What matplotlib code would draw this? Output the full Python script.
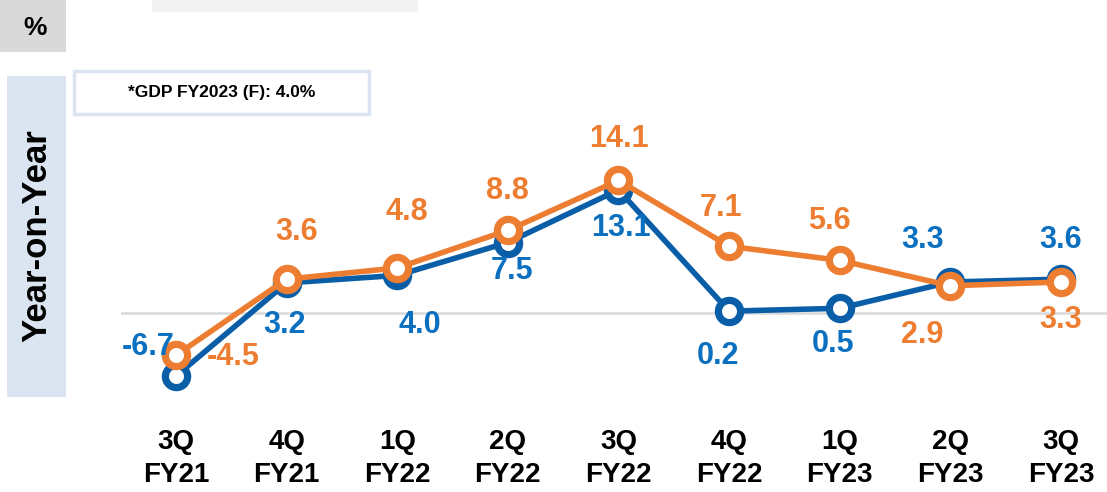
import matplotlib.pyplot as plt
from matplotlib.patches import Rectangle

quarters = ["3Q\nFY21", "4Q\nFY21", "1Q\nFY22", "2Q\nFY22", "3Q\nFY22",
            "4Q\nFY22", "1Q\nFY23", "2Q\nFY23", "3Q\nFY23"]
blue_values = [-6.7, 3.2, 4.0, 7.5, 13.1, 0.2, 0.5, 3.3, 3.6]
orange_values = [-4.5, 3.6, 4.8, 8.8, 14.1, 7.1, 5.6, 2.9, 3.3]

# label offsets in pixels relative to each point
blue_offsets = [(-28, 29), (-2, -42), (23, -50), (4, -28), (2, -38),
                (-11, -45), (-7, -36), (-28, 42), (0, 39)]
orange_offsets = [(57, -2), (10, 47), (10, 56), (0, 39), (0, 41),
                  (-8, 38), (-10, 39), (-28, -49), (0, -38)]

W, H = 1107, 492
BLUE = "#0a5ea8"
BLUE_TXT = "#0b70bf"
ORANGE = "#ed7d31"
FONT = "Liberation Sans"


def fig_rect(x, y, w, h):
    # pixel box (top-left origin) to figure fraction
    return (x / W, 1 - (y + h) / H, w / W, h / H)


fig = plt.figure(figsize=(W / 100, H / 100), dpi=100)
plt.rcParams["font.family"] = FONT

for (x, y, w, h), color in [((152, 0, 266, 12), "#f2f2f2"),
                            ((0, 0, 66, 52), "#d9d9d9"),
                            ((7, 76, 59, 321), "#dbe5f1")]:
    fx, fy, fw, fh = fig_rect(x, y, w, h)
    fig.patches.append(Rectangle((fx, fy), fw, fh, transform=fig.transFigure,
                                 facecolor=color, edgecolor="none"))

fx, fy, fw, fh = fig_rect(74, 71, 295, 43)
fig.patches.append(Rectangle((fx, fy), fw, fh, transform=fig.transFigure,
                             facecolor="white", edgecolor="#dbe5f1", linewidth=2.5))
fig.text(fx + fw / 2, fy + fh / 2, "*GDP FY2023 (F): 4.0%", ha="center", va="center",
         fontsize=12.5, fontweight="bold", color="black")
fig.text(35 / W, 1 - 28 / H, "%", ha="center", va="center",
         fontsize=19, fontweight="bold", color="black")
fig.text(37 / W, 1 - 236 / H, "Year-on-Year", ha="center", va="center",
         rotation=90, fontsize=25, fontweight="bold", color="black")

ax = fig.add_axes(fig_rect(121, 130, 986, 270))
ax.set_xlim(-0.497, 8.416)
ax.set_ylim(-9.255, 19.47)
ax.axhline(0, color="#d9d9d9", linewidth=1.8, zorder=1)

x = list(range(len(quarters)))
for values, color in [(blue_values, BLUE), (orange_values, ORANGE)]:
    ax.plot(x, values, color=color, linewidth=4, marker="o", markersize=16,
            markerfacecolor="white", markeredgecolor=color, markeredgewidth=5.2,
            clip_on=False, zorder=3)

for values, offsets, color in [(blue_values, blue_offsets, BLUE_TXT),
                               (orange_values, orange_offsets, ORANGE)]:
    for i, (v, off) in enumerate(zip(values, offsets)):
        ax.annotate(f"{v:.1f}", (i, v), xytext=off, textcoords="offset pixels",
                    ha="center", va="center", fontsize=22, fontweight="bold",
                    color=color, zorder=4, annotation_clip=False)

ax.set_xticks(x)
ax.set_xticklabels(quarters, fontsize=20, fontweight="bold", linespacing=1.35)
ax.tick_params(axis="x", length=0, pad=21)
ax.set_yticks([])
for spine in ax.spines.values():
    spine.set_visible(False)
ax.patch.set_alpha(0)

fig.savefig("out.png", dpi=100)
